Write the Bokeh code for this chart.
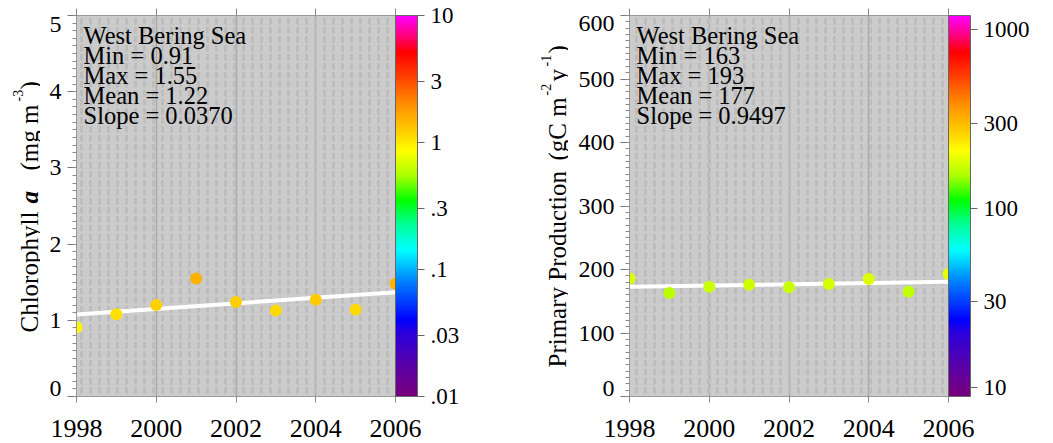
import numpy as np
from bokeh.plotting import figure
from bokeh.models import (Range1d, LinearAxis, SingleIntervalTicker, FixedTicker,
                          LogColorMapper, ColorBar, Label, BoxAnnotation, ColumnDataSource,
                          CustomLabelingPolicy)
from bokeh.layouts import row
from bokeh.embed import file_html
from bokeh.resources import INLINE

# ---------------- data ----------------
years = [1998, 1999, 2000, 2001, 2002, 2003, 2004, 2005, 2006]
chl = [0.91, 1.08, 1.20, 1.55, 1.24, 1.13, 1.27, 1.14, 1.48]
pp = [186, 163, 173, 176, 172, 177, 185, 165, 193]
chl_stats = ["West Bering Sea", "Min = 0.91", "Max = 1.55", "Mean = 1.22", "Slope = 0.0370"]
pp_stats = ["West Bering Sea", "Min = 163", "Max = 193", "Mean = 177", "Slope = 0.9497"]
x_ticks = [1998, 2000, 2002, 2004, 2006]
chl_y_ticks = [0, 1, 2, 3, 4, 5]
chl_y_labels = ["0", "1", "2", "3", "4", "5"]
pp_y_ticks = [0, 100, 200, 300, 400, 500, 600]
pp_y_labels = ["0", "100", "200", "300", "400", "500", "600"]
chl_cbar_ticks = [0.01, 0.03, 0.1, 0.3, 1, 3, 10]
chl_cbar_labels = [".01", ".03", ".1", ".3", "1", "3", "10"]
pp_cbar_ticks = [10, 30, 100, 300, 1000]
pp_cbar_labels = ["10", "30", "100", "300", "1000"]
chl_cbar_range = (0.01, 10)
pp_cbar_range = (8.85, 1205)

FONT = "Liberation Serif"
H = 441
TOP = 15
BOTTOM = 45
FRAME_H = H - TOP - BOTTOM

# rainbow palette (purple -> blue -> cyan -> green -> yellow -> red -> magenta)
stops = [(0.00, (0x78, 0x00, 0x7c)), (0.08, (0x58, 0x00, 0xa8)), (0.17, (0x28, 0x00, 0xe0)),
         (0.20, (0x00, 0x00, 0xff)), (0.30, (0x00, 0x80, 0xff)), (0.385, (0x00, 0xff, 0xff)),
         (0.45, (0x00, 0xff, 0x99)), (0.515, (0x00, 0xff, 0x00)), (0.58, (0xaa, 0xff, 0x00)),
         (0.645, (0xff, 0xff, 0x00)), (0.70, (0xff, 0xcc, 0x00)), (0.77, (0xff, 0x8c, 0x00)),
         (0.84, (0xff, 0x40, 0x00)), (0.905, (0xff, 0x00, 0x00)), (0.95, (0xff, 0x00, 0x80)),
         (1.00, (0xff, 0x00, 0xff))]


def make_palette(n=256):
    out = []
    for i in range(n):
        t = i / (n - 1)
        c = stops[-1][1]
        for (t0, c0), (t1, c1) in zip(stops[:-1], stops[1:]):
            if t0 <= t <= t1:
                f = (t - t0) / (t1 - t0)
                c = tuple(int(round(a + (b - a) * f)) for a, b in zip(c0, c1))
                break
        out.append("#%02x%02x%02x" % c)
    return out


PALETTE = make_palette()


def no_labels():
    return CustomLabelingPolicy(code="for (let i = 0; i < indices.size; i++) { indices.unset(i) } return indices")


def title_fig(width, parts, base_x):
    # frame is aligned with the neighbouring plot frames; data units = page pixels
    t = figure(width=width, height=H, x_range=Range1d(0, width),
               y_range=Range1d(BOTTOM, H - TOP),
               x_axis_type=None, y_axis_type=None, output_backend="svg", toolbar_location=None,
               min_border_left=0, min_border_right=0, min_border_top=TOP,
               min_border_bottom=BOTTOM, outline_line_color=None,
               background_fill_color="white", border_fill_color="white")
    for txt, page_y, dx, size, style in parts:
        t.add_layout(Label(x=base_x + dx, y=H - page_y, text=txt, angle=np.pi / 2,
                           text_align="left", text_baseline="alphabetic",
                           text_font=FONT, text_font_size=f"{size}px",
                           text_font_style=style, text_color="black"))
    return t


def panel(width, bl, br, ymax, yint, vals, stats, cb_range, cb_ticks, cb_labels,
          cb_margin, y_ticks, y_labels, end_shift):
    p = figure(width=width, height=H, x_range=Range1d(1998, 2006), y_range=Range1d(0, ymax),
               output_backend="svg", toolbar_location=None,
               min_border_left=bl, min_border_right=br, min_border_top=TOP,
               min_border_bottom=BOTTOM,
               background_fill_color="#cbcbcb", border_fill_color="white",
               outline_line_color="#9a9a9a", outline_line_width=1)

    # texture
    p.add_layout(BoxAnnotation(fill_alpha=0, line_color=None, hatch_pattern="vertical_dash",
                               hatch_color="#bdbdbd", hatch_scale=9, hatch_weight=3,
                               level="underlay"))

    # x axis
    xa = p.xaxis[0]
    xa.ticker = FixedTicker(ticks=x_ticks)
    xa.major_tick_out = 6
    xa.major_tick_in = 0
    xa.minor_tick_out = 0
    xa.major_tick_line_color = "#888888"
    xa.axis_line_color = "#9a9a9a"
    xa.major_label_text_font = FONT
    xa.major_label_text_font_size = "26px"
    xa.major_label_text_color = "black"
    xa.major_label_standoff = 17

    top = LinearAxis(ticker=FixedTicker(ticks=x_ticks), major_label_text_font_size="0px",
                     major_label_standoff=0, major_tick_out=7, major_tick_in=0,
                     minor_tick_out=0, major_tick_line_color="#888888",
                     axis_line_color="#9a9a9a", major_label_policy=no_labels())
    p.add_layout(top, "above")

    # y axis: ticks only (next to the frame)
    ya = p.yaxis[0]
    ya.ticker = SingleIntervalTicker(interval=yint, num_minor_ticks=10)
    ya.major_tick_out = 9
    ya.major_tick_in = 0
    ya.minor_tick_out = 4
    ya.minor_tick_in = 0
    ya.major_tick_line_color = "#777777"
    ya.minor_tick_line_color = "#888888"
    ya.axis_line_color = "#9a9a9a"
    ya.major_label_text_font_size = "0px"
    ya.major_label_standoff = 0
    ya.major_label_policy = no_labels()

    # y axis: labels only, end labels pulled inside the frame
    units_per_px = ymax / FRAME_H
    pos = list(y_ticks)
    pos[0] = y_ticks[0] + end_shift[0] * units_per_px
    pos[-1] = y_ticks[-1] - end_shift[1] * units_per_px
    overrides = {}
    for pv, lab in zip(pos, y_labels):
        overrides[float(pv)] = lab
        overrides[str(pv)] = lab
    lab_axis = LinearAxis(ticker=FixedTicker(ticks=pos), major_label_overrides=overrides,
                          major_tick_out=0, major_tick_in=0, minor_tick_out=0, minor_tick_in=0,
                          axis_line_color=None, major_label_standoff=6,
                          major_label_text_font=FONT, major_label_text_font_size="24px",
                          major_label_text_color="black")
    p.add_layout(lab_axis, "left")

    p.xgrid.grid_line_color = "#a9a9a9"
    p.xgrid.grid_line_width = 1.5
    p.ygrid.grid_line_color = None

    mapper = LogColorMapper(palette=PALETTE, low=cb_range[0], high=cb_range[1])

    # regression line
    coef = np.polyfit(years, vals, 1)
    xs = [years[0], years[-1]]
    p.line(xs, [float(v) for v in np.polyval(coef, xs)], line_color="white", line_width=4)

    src = ColumnDataSource(dict(x=years, y=vals))
    p.scatter("x", "y", source=src, size=12, line_color=None,
              fill_color={"field": "y", "transform": mapper})

    # stats text
    for i, s in enumerate(stats):
        p.add_layout(Label(x=1998, y=ymax, x_offset=7, y_offset=-20 * (i + 1), text=s,
                           text_font=FONT, text_font_size="24.5px", text_color="black",
                           text_baseline="alphabetic"))

    cb = ColorBar(color_mapper=mapper, ticker=FixedTicker(ticks=cb_ticks),
                  major_label_overrides={**{t: l for t, l in zip(cb_ticks, cb_labels)},
                                         **{str(t): l for t, l in zip(cb_ticks, cb_labels)}},
                  width=22, margin=cb_margin, padding=0, label_standoff=6,
                  major_tick_out=7, major_tick_in=0, major_tick_line_color="#666666",
                  minor_tick_line_color=None, bar_line_color="#666666",
                  major_label_text_font=FONT, major_label_text_font_size="23px",
                  major_label_text_color="black", background_fill_color="white",
                  border_line_color=None)
    p.add_layout(cb, "right")
    return p


# (text, page y of text start, baseline shift, font px, style)
left_title = [("Chlorophyll", 332, 0, 25, "normal"), ("a", 203, 0, 25, "bold italic"),
              ("(mg m", 170, 0, 25, "normal"), ("-3", 101, -12, 14, "normal"),
              (")", 89, 0, 25, "normal")]
right_title = [("Primary Production", 367, 0, 25, "normal"), ("(gC m", 160, 0, 25, "normal"),
               ("-2", 95, -12, 14, "normal"), ("y", 81, 0, 25, "normal"),
               ("-1", 66, -12, 14, "normal"), (")", 53, 0, 25, "normal")]

t1 = title_fig(40, left_title, 29)
p1 = panel(483, 36, 128, 5, 1, chl, chl_stats, chl_cbar_range, chl_cbar_ticks, chl_cbar_labels,
           7, chl_y_ticks, chl_y_labels, (8, 9))
t2 = title_fig(45, right_title, 34)
p2 = panel(482, 61, 102, 600, 100, pp, pp_stats, pp_cbar_range, pp_cbar_ticks, pp_cbar_labels,
           9, pp_y_ticks, pp_y_labels, (8, 8))

layout = row(t1, p1, t2, p2)
open("out.html", "w").write(file_html(layout, INLINE))
